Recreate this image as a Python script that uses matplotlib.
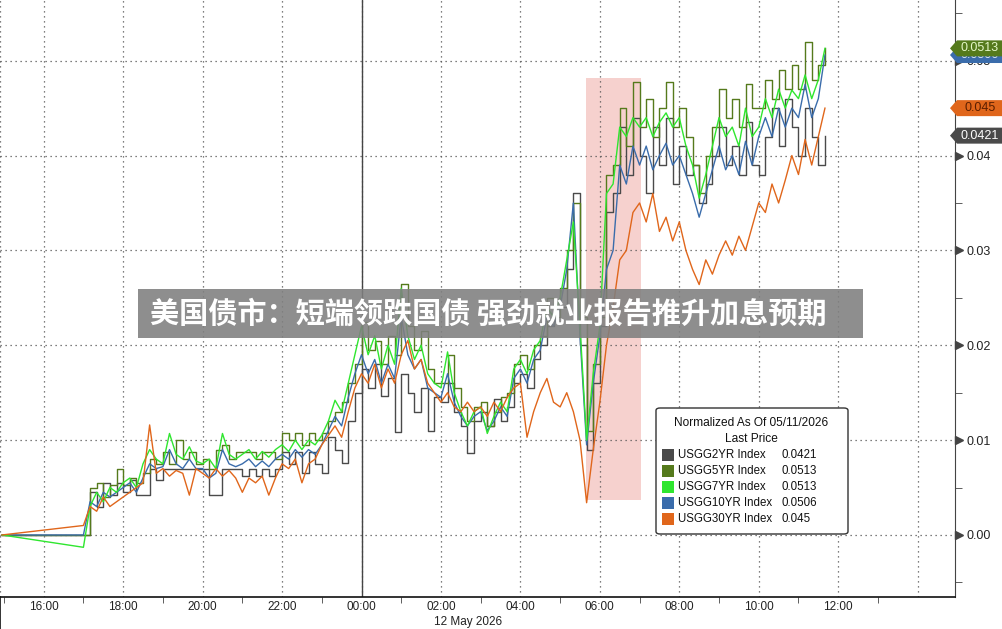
import matplotlib
matplotlib.use("Agg")
import matplotlib.pyplot as plt
import numpy as np
from matplotlib.patches import Polygon, Rectangle, FancyBboxPatch
from matplotlib.transforms import blended_transform_factory
from matplotlib.ticker import FixedLocator, FixedFormatter

plt.rcParams['font.family'] = ['Liberation Sans', 'DejaVu Sans']

# --- data (yield change since 05/11 close, in bp; axis shows bp/100) ---
start_hour = 14 + 57 / 60.0     # normalisation point, 11 May
first_hour = 17.0               # first tick of the session
step_min = 10                   # one value every 10 minutes

# hours 17,18,...,23,00,...,10 (6 values each), then 11:00-11:40
usgg2_bp = [
    0.0, 0.45, 0.3, 0.55, 0.42, 0.55,
    0.45, 0.58, 0.42, 0.42, 0.7, 0.58,
    0.7, 0.7, 0.7, 0.7, 0.7, 0.7,
    0.7, 0.42, 0.42, 0.7, 0.7, 0.7,
    0.62, 0.7, 0.62, 0.7, 0.62, 0.7,
    0.87, 0.75, 0.87, 0.65, 0.87, 0.75,
    0.65, 1.03, 0.9, 0.76, 1.2, 1.5,
    1.75, 1.55, 1.8, 1.46, 1.65, 1.09,
    1.7, 1.5, 1.3, 1.55, 1.1, 1.45,
    1.4, 1.6, 1.3, 1.15, 0.86, 1.2,
    1.3, 1.15, 1.43, 1.2, 1.35, 1.6,
    1.7, 1.55, 1.85, 2.0, 2.2, 2.4,
    2.4, 2.8, 3.6, 2.0, 0.9, 1.6,
    2.2, 3.4, 3.6, 4.3, 3.8, 4.4,
    4.0, 3.6, 4.3, 3.9, 4.4, 3.7,
    4.1, 3.8, 3.9, 3.5, 3.7, 4.0,
    4.3, 3.9, 4.1, 3.8, 4.35, 3.9,
    3.8, 4.2, 4.5, 4.1, 4.6, 4.3,
    4.0, 4.5, 4.2, 3.9, 4.21]

usgg5_bp = [
    0.0, 0.5, 0.55, 0.4, 0.53, 0.7,
    0.53, 0.6, 0.55, 0.65, 0.8, 0.75,
    0.87, 0.75, 1.0, 0.8, 0.87, 0.75,
    0.8, 0.7, 0.9, 0.95, 0.8, 0.87,
    0.87, 0.87, 0.8, 0.87, 0.87, 0.8,
    1.07, 1.0, 1.07, 0.95, 1.07, 1.0,
    1.07, 1.2, 1.3, 1.4, 1.6, 1.8,
    2.25, 1.95, 2.05, 1.8, 2.1, 1.9,
    2.65, 2.2, 1.95, 2.15, 1.75, 1.6,
    1.6, 1.9, 1.55, 1.35, 1.2, 1.35,
    1.4, 1.15, 1.3, 1.45, 1.5, 1.8,
    1.9, 1.75, 2.0, 2.1, 2.5, 2.3,
    2.6, 3.0, 3.5, 2.3, 1.1, 1.8,
    2.3, 3.8, 3.9, 4.5, 4.1, 4.78,
    4.3, 4.6, 4.2, 4.5, 4.78, 4.3,
    4.5, 4.2, 3.9, 3.6, 4.0, 4.3,
    4.7, 4.4, 4.6, 4.3, 4.75, 4.5,
    4.5, 4.8, 4.6, 4.9, 4.7, 4.95,
    4.7, 5.2, 4.8, 4.95, 5.13]

usgg7_bp = [
    -0.13, 0.3, 0.45, 0.35, 0.5, 0.45,
    0.55, 0.6, 0.5, 0.75, 0.9, 0.8,
    0.75, 1.07, 0.85, 0.8, 0.93, 0.78,
    0.75, 0.8, 0.7, 1.07, 0.85, 0.8,
    0.85, 0.9, 0.8, 0.88, 0.82, 0.9,
    0.95, 0.88, 1.0, 0.9, 1.0, 0.95,
    1.05, 1.2, 1.42, 1.3, 1.6, 1.9,
    2.2, 1.9, 2.1, 1.75, 2.0, 1.8,
    2.6, 2.1, 1.85, 2.0, 1.7, 1.6,
    1.55, 1.93, 1.5, 1.3, 1.15, 1.3,
    1.35, 1.07, 1.25, 1.4, 1.3, 1.75,
    1.85, 1.7, 1.95, 2.05, 2.4, 2.3,
    2.5, 2.9, 3.3, 2.2, 1.0, 1.7,
    2.2, 3.6, 3.7, 4.3, 4.2, 4.4,
    4.3, 4.4, 4.2, 4.35, 4.45, 4.3,
    4.4, 4.1, 3.9, 3.55, 3.8, 4.1,
    4.4, 4.2, 4.3, 4.1, 4.5, 4.2,
    4.3, 4.6, 4.4, 4.7, 4.5, 4.69,
    4.6, 4.85, 4.6, 4.8, 5.13]

usgg10_bp = [
    0.0, 0.35, 0.3, 0.45, 0.4, 0.45,
    0.5, 0.55, 0.45, 0.6, 0.75, 0.7,
    0.72, 0.9, 0.75, 0.7, 0.8, 0.7,
    0.7, 0.6, 0.65, 0.9, 0.75, 0.72,
    0.75, 0.8, 0.72, 0.78, 0.72, 0.8,
    0.85, 0.8, 0.9, 0.82, 0.9, 0.85,
    0.95, 1.1, 1.25, 1.15, 1.45, 1.7,
    1.9, 1.7, 1.85, 1.6, 1.8, 1.65,
    2.3, 1.9, 1.75, 1.85, 1.55, 1.5,
    1.45, 1.7, 1.4, 1.25, 1.15, 1.25,
    1.3, 1.1, 1.2, 1.35, 1.25, 1.65,
    1.75, 1.6, 1.85, 1.95, 2.3, 2.2,
    2.4, 2.8, 3.5, 2.1, 0.95, 1.6,
    2.1, 2.8, 3.0, 3.9, 3.7, 4.1,
    3.9, 4.1, 3.85, 4.0, 4.13, 3.9,
    4.0, 3.8, 3.6, 3.35, 3.6, 3.85,
    4.1, 3.85, 4.0, 3.8, 4.15, 3.9,
    4.2, 4.4, 4.2, 4.5, 4.3, 4.5,
    4.4, 4.75, 4.4, 4.6, 5.06]

usgg30_bp = [
    0.1, 0.3, 0.25, 0.4, 0.3, 0.35,
    0.4, 0.45, 0.5, 0.55, 1.16, 0.65,
    0.7, 0.62, 0.68, 0.65, 0.42, 0.7,
    0.65, 0.6, 0.7, 0.62, 0.68, 0.6,
    0.45, 0.6, 0.55, 0.62, 0.42, 0.6,
    0.75, 0.7, 0.8, 0.55, 0.75, 0.8,
    0.95, 1.05, 1.15, 1.03, 1.3, 1.55,
    1.7, 1.6, 1.8, 1.55, 1.75, 1.6,
    1.9, 2.05, 1.75, 1.85, 1.6, 1.5,
    1.4, 1.5, 1.35, 1.3, 1.4, 1.3,
    1.35, 1.25, 1.4, 1.3, 1.45, 1.55,
    1.6, 1.03, 1.3, 1.5, 1.65, 1.4,
    1.35, 1.5, 1.3, 1.0, 0.34, 0.9,
    1.4, 2.0, 2.4, 2.9, 3.0, 3.4,
    3.5, 3.3, 3.6, 3.2, 3.35, 3.1,
    3.3, 3.0, 2.8, 2.64, 2.9, 2.75,
    2.95, 3.1, 2.95, 3.15, 3.0, 3.25,
    3.5, 3.4, 3.7, 3.5, 3.74, 4.0,
    3.8, 4.17, 3.9, 4.2, 4.5]

series_names = ["USGG2YR Index", "USGG5YR Index", "USGG7YR Index",
                "USGG10YR Index", "USGG30YR Index"]
last_prices = ["0.0421", "0.0513", "0.0513", "0.0506", "0.045"]
series_colors = ["#4a4a4a", "#557a1c", "#2fe62f", "#3a6cab", "#e0661b"]

xtick_hours = [16, 18, 20, 22, 24, 26, 28, 30, 32, 34, 36, 38]
xtick_labels = ["16:00", "18:00", "20:00", "22:00", "00:00", "02:00",
                "04:00", "06:00", "08:00", "10:00", "12:00", ""]
ytick_values = [0.00, 0.01, 0.02, 0.03, 0.04, 0.05]

# shaded window around the payrolls release
shade_hours = (29.64, 31.03)
shade_vals = (0.0037, 0.0482)

title = "美国债市：短端领跌国债 强劲就业报告推升加息预期"

# --- figure ---
W, H = 1003, 629
fig = plt.figure(figsize=(W / 100, H / 100), dpi=100)
ax = fig.add_axes([0, 32 / H, 955 / W, 597 / H])

all_series = [usgg2_bp, usgg5_bp, usgg7_bp, usgg10_bp, usgg30_bp]
n = len(usgg2_bp)
hours = np.concatenate([[start_hour], first_hour + np.arange(n) * step_min / 60.0])

ax.add_patch(Rectangle((shade_hours[0], shade_vals[0]),
                       shade_hours[1] - shade_hours[0], shade_vals[1] - shade_vals[0],
                       facecolor="#f5c9c6", edgecolor="none", alpha=0.85, zorder=1))

draw_order = [0, 1, 3, 2, 4]
for i in draw_order:
    vals = np.concatenate([[0.0], np.array(all_series[i]) / 100.0])
    style = "steps-post" if i in (0, 1) else "default"
    ax.plot(hours, vals, color=series_colors[i], lw=1.0, drawstyle=style, zorder=3)

ax.set_xlim(start_hour - 0.05, 38.94)
ax.set_ylim(-0.00654, 0.0564)

# x axis
ax.xaxis.set_major_locator(FixedLocator(xtick_hours))
ax.xaxis.set_major_formatter(FixedFormatter(xtick_labels))
ax.xaxis.set_minor_locator(FixedLocator(np.arange(15, 39, 2)))
ax.tick_params(axis="x", which="major", length=0, pad=3, labelsize=8.5, colors="#222")
ax.tick_params(axis="x", which="minor", length=4, direction="out", color="#444")

# y axis on the right
ax.yaxis.tick_right()
ax.yaxis.set_major_locator(FixedLocator(ytick_values))
ax.yaxis.set_major_formatter(FixedFormatter(["%.2f" % v for v in ytick_values]))
ax.yaxis.set_minor_locator(FixedLocator(np.arange(-0.005, 0.056, 0.01)))
ax.tick_params(axis="y", which="major", length=0, pad=8, labelsize=9, colors="#222")
ax.tick_params(axis="y", which="minor", length=5, direction="out", color="#444")
ytr = ax.get_yaxis_transform()
ax.plot([1.004] * len(ytick_values), ytick_values, ls="none", marker=">",
        ms=6, color="#444", transform=ytr, clip_on=False, zorder=5)

ax.grid(which="major", color="#555", linestyle=(0, (1, 3)), lw=0.9)
ax.axvline(24, color="#444", lw=1.0, zorder=2)

for side in ("top", "left"):
    ax.spines[side].set_visible(False)
ax.spines["right"].set_color("#444")
ax.spines["bottom"].set_color("#111")
ax.spines["bottom"].set_linewidth(1.2)
fig.add_artist(plt.Line2D([0.5 / W, 0.5 / W], [0, 32 / H], color="#111", lw=1.2))
ax.axvline(start_hour - 0.05, color="#555", linestyle=(0, (1, 3)), lw=0.9)

fig.text(468 / W, 1 - 622 / H, "12 May 2026", ha="center", va="center",
         fontsize=8.5, color="#222")

# last-value tags on the right axis
tag_tr = blended_transform_factory(fig.transFigure, ax.transData)
half = 8 * (0.0564 + 0.00654) / 597


def draw_tag(value, text, face, txtcol, z):
    pts = [(950 / W, value), (957 / W, value + half), (1.0, value + half),
           (1.0, value - half), (957 / W, value - half)]
    fig.add_artist(Polygon(pts, closed=True, transform=tag_tr, facecolor=face,
                           edgecolor="none", clip_on=False, zorder=z))
    fig.text(980 / W, value, text, transform=tag_tr, ha="center", va="center",
             fontsize=9, color=txtcol, zorder=z + 0.5)


draw_tag(float(last_prices[3]), last_prices[3], series_colors[3], "#dde8f5", 10)
draw_tag(float(last_prices[1]), last_prices[1], series_colors[1], "#e4f7c8", 11)
draw_tag(float(last_prices[4]), last_prices[4], series_colors[4], "#5a1e00", 12)
draw_tag(float(last_prices[0]), last_prices[0], series_colors[0], "#ffffff", 13)

# legend box
def fx(px):
    return px / W


def fy(py):
    return 1 - py / H


fig.add_artist(FancyBboxPatch((fx(656), fy(534)), fx(848) - fx(656), fy(408) - fy(534),
                              boxstyle="round,pad=0,rounding_size=0.004",
                              transform=fig.transFigure, facecolor="white",
                              edgecolor="#333", lw=1.0, zorder=14))
fig.text(fx(751), fy(423), "Normalized As Of 05/11/2026", ha="center", va="center",
         fontsize=8.6, color="#111", zorder=15)
fig.text(fx(751), fy(439), "Last Price", ha="center", va="center",
         fontsize=8.6, color="#111", zorder=15)
for k in range(len(series_names)):
    yc = 455 + 16 * k
    fig.add_artist(Rectangle((fx(662), fy(yc + 6)), fx(12), 12 / H,
                             transform=fig.transFigure, facecolor=series_colors[k],
                             edgecolor="none", zorder=15))
    fig.text(fx(678), fy(yc), series_names[k], ha="left", va="center",
             fontsize=8.3, color="#111", zorder=15)
    fig.text(fx(782), fy(yc), last_prices[k], ha="left", va="center",
             fontsize=8.3, color="#111", zorder=15)

# headline banner
fig.add_artist(Rectangle((fx(138), fy(338)), fx(863) - fx(138), 49 / H,
                         transform=fig.transFigure, facecolor="#7f7f7f",
                         edgecolor="none", alpha=0.88, zorder=16))
fig.text(fx(488), fy(314), title, ha="center", va="center", fontsize=21,
         fontweight="bold", color="white", family=["Noto Sans CJK SC", "DejaVu Sans"],
         zorder=17)

fig.savefig("out.png", dpi=100)
